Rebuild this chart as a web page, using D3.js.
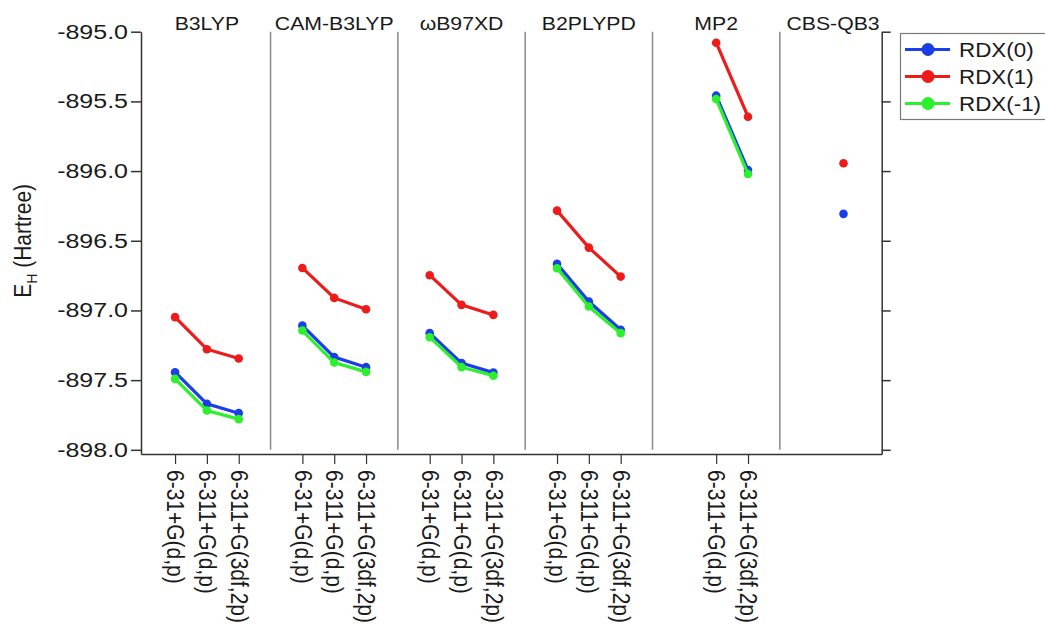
<!DOCTYPE html>
<html><head><meta charset="utf-8">
<script src="https://cdn.jsdelivr.net/npm/d3@7/dist/d3.min.js"></script>
<style>
body{margin:0;background:#fff;}
text{font-family:"Liberation Sans",Arial,sans-serif;fill:#1a1a1a;}
</style></head>
<body><svg id="c" width="1045" height="626"></svg>
<script>
// ---- data ----
const methods = ["B3LYP","CAM-B3LYP","ωB97XD","B2PLYPD","MP2","CBS-QB3"];
const basisSets = ["6-31+G(d,p)","6-311+G(d,p)","6-311+G(3df,2p)"];
// which basis labels are shown per method
const methodBasis = [
  [0,1,2],[0,1,2],[0,1,2],[0,1,2],[1,2],[]
];
const seriesNames = ["RDX(0)","RDX(1)","RDX(-1)"];
const seriesColors = ["#1a3ee8","#ee1b1b","#2df02d"];
// values per method, per basis (null = not computed)
const rdx0 = [
  [-897.443,-897.670,-897.737],
  [-897.109,-897.335,-897.407],
  [-897.163,-897.378,-897.446],
  [-896.666,-896.936,-897.139],
  [null,-895.459,-895.992],
  [null,-896.307,null]
];
const rdx1 = [
  [-897.048,-897.278,-897.345],
  [-896.695,-896.910,-896.991],
  [-896.747,-896.960,-897.032],
  [-896.284,-896.549,-896.757],
  [null,-895.079,-895.610],
  [null,-895.944,null]
];
const rdxm1 = [
  [-897.491,-897.718,-897.780],
  [-897.144,-897.374,-897.441],
  [-897.192,-897.407,-897.469],
  [-896.697,-896.972,-897.163],
  [null,-895.483,-896.021],
  [null,null,null]
];
const yTicks = [-895.0,-895.5,-896.0,-896.5,-897.0,-897.5,-898.0];
const allSeries = [rdx0, rdx1, rdxm1];

// ---- layout ----
const svg = d3.select("#c");
const pL = 141, pR = 881.7, pT = 31.7, pB = 454;
const slot = (m,b) => m*4 + b + 1;
const x = d3.scaleLinear().domain([-0.07, 23.2]).range([pL, pR]);
const y = d3.scaleLinear().domain([-898.03, -895.0]).range([pB, pT]);
const axisColor = "#333";

// separators
svg.append("g").selectAll("line").data(d3.range(1, methods.length)).join("line")
  .attr("x1", d => x(d*4)).attr("x2", d => x(d*4))
  .attr("y1", y(-895)).attr("y2", y(-898))
  .attr("stroke", "#8a8a8a").attr("stroke-width", 1.5);

// left axis
const gy = svg.append("g").attr("transform", `translate(${pL},0)`)
  .call(d3.axisLeft(y).tickValues(yTicks).tickFormat(d => d.toFixed(1)).tickSize(10).tickSizeOuter(0));
gy.select(".domain").attr("stroke", axisColor).attr("stroke-width", 1.5);
gy.selectAll(".tick line").attr("stroke", axisColor).attr("stroke-width", 1.5);
gy.selectAll(".tick text").attr("font-size", 20).attr("x", -13/1.25)
  .attr("transform", "scale(1.25,1)").attr("fill", "#1a1a1a")
  .style("font-family", "'Liberation Sans',Arial,sans-serif");

// right axis (mirror, no labels)
const gr = svg.append("g").attr("transform", `translate(${pR},0)`)
  .call(d3.axisRight(y).tickValues(yTicks).tickFormat("").tickSize(9).tickSizeOuter(0));
gr.select(".domain").attr("stroke", axisColor).attr("stroke-width", 1.5);
gr.selectAll(".tick line").attr("stroke", axisColor).attr("stroke-width", 1.5);

// bottom axis
const tickSlots = [], tickLabels = {};
methodBasis.forEach((bs, m) => bs.forEach(b => { tickSlots.push(slot(m,b)); tickLabels[slot(m,b)] = basisSets[b]; }));
const gx = svg.append("g").attr("transform", `translate(0,${pB})`)
  .call(d3.axisBottom(x).tickValues(tickSlots).tickFormat(d => tickLabels[d]).tickSize(10).tickSizeOuter(0));
gx.select(".domain").attr("stroke", axisColor).attr("stroke-width", 1.5);
gx.selectAll(".tick line").attr("stroke", axisColor).attr("stroke-width", 1.2);
gx.selectAll(".tick text").attr("font-size", 21).attr("transform", "rotate(90) scale(1,1.12)")
  .attr("x", 16).attr("y", 0).attr("dy", "0.35em").attr("text-anchor", "start")
  .attr("fill", "#1a1a1a").style("font-family", "'Liberation Sans',Arial,sans-serif");

// group labels
svg.append("g").selectAll("text").data(methods).join("text")
  .attr("text-anchor", "middle").attr("font-size", 18).attr("y", 30)
  .text(d => d)
  .each(function(d, i) {
    const w = this.getComputedTextLength() * 1.18;
    const cx = Math.min(x(slot(i,1)), pR - w/2 - 2);
    d3.select(this).attr("transform", `translate(${cx},0) scale(1.18,1)`);
  });

// y title
svg.append("text").attr("transform", `translate(31,${(pT+450)/2}) rotate(-90) scale(1,1.1)`)
  .attr("text-anchor", "middle").attr("font-size", 21)
  .call(t => {
    t.append("tspan").text("E");
    t.append("tspan").attr("font-size", 14).attr("dy", 5).text("H");
    t.append("tspan").attr("dy", -5).text(" (Hartree)");
  });

// series
allSeries.forEach((ser, si) => {
  const g = svg.append("g");
  ser.forEach((vals, m) => {
    const pts = vals.map((v, b) => ({v, s: slot(m,b)})).filter(p => p.v !== null);
    if (pts.length > 1) {
      g.append("path").datum(pts)
        .attr("d", d3.line().x(p => x(p.s)).y(p => y(p.v)))
        .attr("fill", "none").attr("stroke", seriesColors[si]).attr("stroke-width", 3.2);
    }
    g.selectAll(null).data(pts).join("circle")
      .attr("cx", p => x(p.s)).attr("cy", p => y(p.v)).attr("r", 4.3)
      .attr("fill", seriesColors[si]);
  });
});

// legend
const lg = svg.append("g");
lg.append("rect").attr("x", 900.5).attr("y", 33.5).attr("width", 170).attr("height", 86)
  .attr("fill", "#fff").attr("stroke", "#7a7a7a").attr("stroke-width", 1.2);
seriesNames.forEach((n, i) => {
  const ly = 49.5 + i*27;
  lg.append("line").attr("x1", 905).attr("x2", 950).attr("y1", ly).attr("y2", ly)
    .attr("stroke", seriesColors[i]).attr("stroke-width", 3);
  lg.append("circle").attr("cx", 928).attr("cy", ly).attr("r", 6.5).attr("fill", seriesColors[i]);
  lg.append("text").attr("transform", `translate(959,${ly}) scale(1.12,1)`)
    .attr("dy", "0.36em").attr("font-size", 20).text(n);
});
</script></body></html>
